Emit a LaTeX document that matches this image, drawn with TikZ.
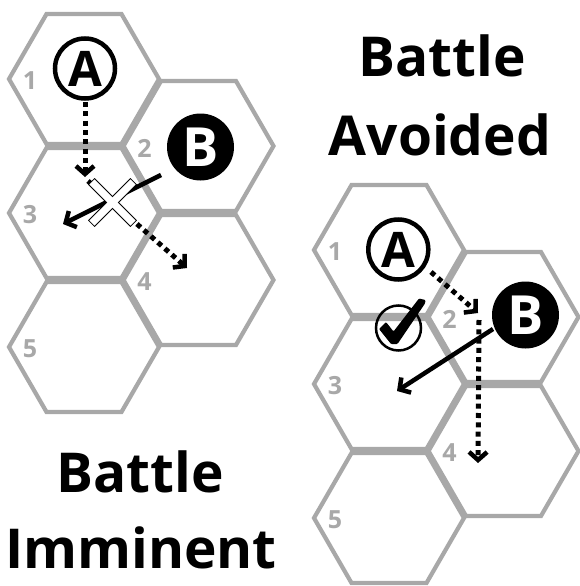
\documentclass[tikz,border=0pt]{standalone}
\usepackage{fontspec}
\setmainfont{Open Sans}
\usetikzlibrary{arrows.meta}
\definecolor{hexgray}{RGB}{168,168,168}

\tikzset{
  hexline/.style={draw=hexgray, line width=4.2pt, line join=miter},
  numlabel/.style={text=hexgray, font=\fontsize{25}{25}\selectfont\bfseries, inner sep=0pt},
  title/.style={font=\fontsize{55}{60}\selectfont\bfseries, inner sep=0pt, anchor=base},
  tokenA/.style={circle, draw=black, line width=4.5pt, fill=white, minimum size=60pt, inner sep=0pt,
                 font=\fontsize{49}{49}\selectfont\bfseries},
  tokenB/.style={circle, fill=black, text=white, minimum size=67pt, inner sep=0pt,
                 font=\fontsize{54}{54}\selectfont\bfseries},
  dotmove/.style={line width=5pt, line cap=butt, dash pattern=on 5pt off 4.3pt,
                  -{Straight Barb[length=8pt,width=18pt,line width=4.5pt]}},
  solidmove/.style={line width=4.5pt,
                  -{Straight Barb[length=8pt,width=18pt,line width=4.5pt]}},
}

% one flat-topped hex cell with its number in the left corner
\newcommand\hexcell[4]{%
  \coordinate (#1) at (#2,#3);
  \draw[hexline] (#1) +(0:75) -- +(60:75) -- +(120:75) -- +(180:75) -- +(240:75) -- +(300:75) -- cycle;
  \node[numlabel] (#1n) at ([shift={(-54,2)}]#1) {#4};
}

\begin{document}
\begin{tikzpicture}[x=1pt,y=-1pt]
\fill[white] (0,0) rectangle (579,586);
\useasboundingbox (0,0) rectangle (579,586);

% ---- left board: battle imminent ----
\hexcell{L1}{84}{79}{1}
\hexcell{L2}{198.5}{146}{2}
\hexcell{L3}{84}{213}{3}
\hexcell{L4}{198.5}{280}{4}
\hexcell{L5}{84}{347}{5}

\node[tokenA] (LA) at (85,68.5) {A};
\node[tokenB] (LB) at (200.5,147) {B};

\coordinate (la0) at (85,102);
\coordinate (la1) at (85,177);
\coordinate (la2) at (88,181);
\coordinate (la3) at (187,268);
\coordinate (lb0) at (161,175);
\coordinate (lb1) at (63,224);

\draw[dotmove] (la0) -- (la1);
\draw[dotmove] (la2) -- (la3);
\draw[solidmove] (lb0) -- (lb1);

% crossed-out mark over the meeting point
\begin{scope}[shift={(112.5,202.5)}]
  \foreach \a in {45,-45} \draw[line width=2pt, rotate=\a] (-29,-3.6) rectangle (29,3.6);
  \foreach \a in {45,-45} \fill[white, rotate=\a] (-29,-3.6) rectangle (29,3.6);
\end{scope}

\node[title] (LT1) at (140,492) {Battle};
\node[title] (LT2) at (141,568) {Imminent};

% ---- right board: battle avoided ----
\hexcell{R1}{389}{250}{1}
\hexcell{R2}{503.5}{317}{2}
\hexcell{R3}{389}{384}{3}
\hexcell{R4}{503.5}{451}{4}
\hexcell{R5}{389}{518}{5}

\node[tokenA] (RA) at (398.3,249.5) {A};
\node[tokenB] (RB) at (525.5,315) {B};

\coordinate (ra0) at (431,272);
\coordinate (ra1) at (478,313);
\coordinate (ra2) at (479,320);
\coordinate (ra3) at (478,463);
\coordinate (rb0) at (493,329);
\coordinate (rb1) at (397,391);

\draw[dotmove] (ra0) -- (ra1);
\draw[dotmove] (ra2) -- (ra3);
\draw[solidmove] (rb0) -- (rb1);

% check mark in a ring
\node[circle, draw=black, line width=2.5pt, minimum size=45pt, inner sep=0pt] (RC) at (398.5,328) {};
\fill[black, rounded corners=1pt]
  (379,329) -- (386,322) -- (393.5,331.5) -- (419,298.5) -- (425.5,300) -- (425,303.5)
  -- (397.5,344) -- (391,344) -- cycle;

\node[title] (RT1) at (442,76) {Battle};
\node[title] (RT2) at (440,155) {Avoided};
\end{tikzpicture}
\end{document}
